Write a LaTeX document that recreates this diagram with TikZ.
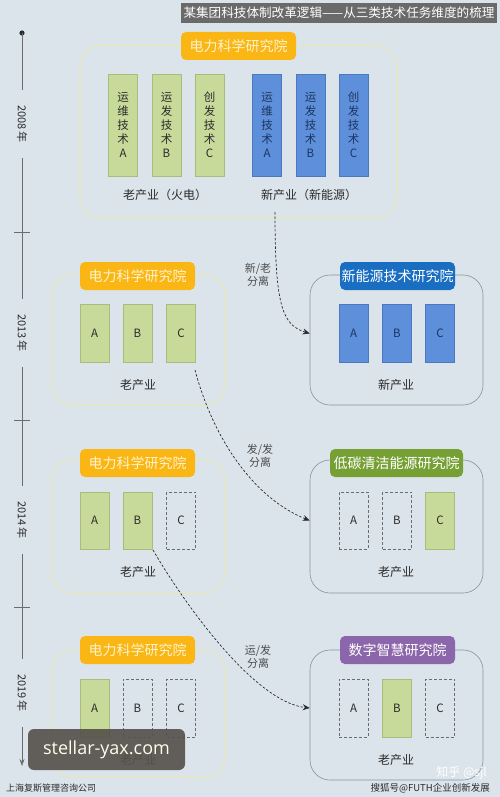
\documentclass[tikz,border=0pt]{standalone}
\usepackage{fontspec}
\setmainfont{Noto Sans CJK SC}
\newfontfamily\wmfont{Open Sans}
\usetikzlibrary{arrows.meta,calc}
\definecolor{bg}{HTML}{DCE4EB}
\definecolor{titlebg}{HTML}{6A6A6A}
\definecolor{orangeC}{HTML}{FAB614}
\definecolor{cream}{HTML}{FFF3CC}
\definecolor{blueHdr}{HTML}{1A6EC2}
\definecolor{greenHdr}{HTML}{76A034}
\definecolor{purpleHdr}{HTML}{8C66AA}
\definecolor{greenBar}{HTML}{C8DA9A}
\definecolor{greenBord}{HTML}{A8BC7C}
\definecolor{blueBar}{HTML}{5E8FDA}
\definecolor{blueBord}{HTML}{4B78BE}
\definecolor{oldFrame}{HTML}{E3E6CB}
\definecolor{newFrame}{HTML}{8493A3}
\definecolor{txt}{HTML}{2B2B2B}
\definecolor{blueTxt}{HTML}{1B355F}
\definecolor{axis}{HTML}{6C6C6C}
\definecolor{wmbox}{HTML}{57524C}
\begin{document}
\begin{tikzpicture}[x=1pt,y=-1pt,
  frameold/.style={draw=oldFrame, line width=1.6pt, rounded corners=20pt, inner sep=0pt, minimum width=173pt, minimum height=130pt},
  framenew/.style={draw=newFrame, line width=0.6pt, rounded corners=20pt, inner sep=0pt, minimum width=173pt, minimum height=130pt},
  hdr/.style={rounded corners=5pt, inner sep=0pt, minimum height=28pt, font=\fontsize{14}{14}\selectfont},
  orangehdr/.style={hdr, fill=orangeC, text=cream, minimum width=115pt},
  gbar/.style={fill=greenBar, draw=greenBord, line width=0.6pt, inner sep=0pt, minimum width=29pt, minimum height=58pt, text=txt, font=\fontsize{11.5}{14}\selectfont, align=center},
  bbar/.style={fill=blueBar, draw=blueBord, line width=0.6pt, inner sep=0pt, minimum width=29pt, minimum height=58pt, text=blueTxt, font=\fontsize{11.5}{14}\selectfont, align=center},
  dbar/.style={draw=axis, dashed, dash pattern=on 3pt off 2pt, line width=0.7pt, inner sep=0pt, minimum width=29pt, minimum height=58pt, text=txt, font=\fontsize{11.5}{14}\selectfont},
  tallbar/.style={minimum height=102pt},
  captxt/.style={text=txt, font=\fontsize{12}{14}\selectfont, inner sep=0pt},
  note/.style={text=txt!85, font=\fontsize{11}{13}\selectfont, align=center, inner sep=0pt},
  conn/.style={draw=txt, dashed, dash pattern=on 2.5pt off 1.8pt, line width=0.7pt, -{Stealth[length=7pt,width=6pt]}},
  year/.style={fill=bg, rotate=-90, inner xsep=15pt, inner ysep=1pt, text=txt, font=\fontsize{11}{11}\selectfont}
]
\fill[bg] (0,0) rectangle (500,797);
\useasboundingbox (0,0) rectangle (500,797);

% title
\node[fill=titlebg, minimum width=316pt, minimum height=20pt, inner sep=0pt, text=white, font=\fontsize{12.6}{13}\selectfont] (title) at (339,13) {某集团科技体制改革逻辑——从三类技术任务维度的梳理};

% timeline
\fill[txt] (22,33) circle (2.6pt);
\coordinate (tstart) at (22,33);
\coordinate (tend) at (22,766);
\draw[axis, line width=0.6pt, -{Stealth[length=7pt,width=5pt]}] (tstart) -- (tend);
\foreach \yy/\nm in {232/k1,420/k2,607/k3}{
  \coordinate (\nm a) at (14,\yy); \coordinate (\nm b) at (30,\yy);
  \draw[axis, line width=0.6pt] (\nm a) -- (\nm b);
}
\node[year] (y08) at (22,124) {2008 年};
\node[year] (y13) at (22,333) {2013 年};
\node[year] (y14) at (22,520) {2014 年};
\node[year] (y19) at (22,693) {2019 年};

% ---------- 2008 ----------
\node[frameold, minimum width=317pt, minimum height=173pt, rounded corners=22pt] (f08) at (238.5,131.5) {};
\node[orangehdr] (h08) at (238.5,46) {电力科学研究院};
\node[gbar, tallbar] (g08a) at (123,125) {运\\维\\技\\术\\A};
\node[gbar, tallbar] (g08b) at (166.5,125) {运\\发\\技\\术\\B};
\node[gbar, tallbar] (g08c) at (209.5,125) {创\\发\\技\\术\\C};
\node[bbar, tallbar] (b08a) at (267,125) {运\\维\\技\\术\\A};
\node[bbar, tallbar] (b08b) at (310.5,125) {运\\发\\技\\术\\B};
\node[bbar, tallbar] (b08c) at (353.5,125) {创\\发\\技\\术\\C};
\node[captxt] (c08o) at (165,195) {老产业（火电）};
\node[captxt] (c08n) at (309,195) {新产业（新能源）};

% ---------- 2013 ----------
\node[frameold] (fl13) at (138.5,340) {};
\node[orangehdr] (hl13) at (137.5,276) {电力科学研究院};
\node[gbar] (l13a) at (94.5,333.5) {A};
\node[gbar] (l13b) at (137.5,333.5) {B};
\node[gbar] (l13c) at (181,333.5) {C};
\node[captxt] (cl13) at (138,385) {老产业};
\node[framenew] (fr13) at (396.5,340) {};
\node[hdr, fill=blueHdr, text=white, minimum width=115pt] (hr13) at (397.5,276) {新能源技术研究院};
\node[bbar] (r13a) at (353.5,333.5) {A};
\node[bbar] (r13b) at (397,333.5) {B};
\node[bbar] (r13c) at (440,333.5) {C};
\node[captxt] (cr13) at (396,385) {新产业};

% ---------- 2014 ----------
\node[frameold, minimum height=133pt] (fl14) at (138.5,526.5) {};
\node[orangehdr] (hl14) at (137.5,463) {电力科学研究院};
\node[gbar, minimum height=57pt] (l14a) at (94.5,520.5) {A};
\node[gbar, minimum height=57pt] (l14b) at (137.5,520.5) {B};
\node[dbar, minimum height=57pt] (l14c) at (181,520.5) {C};
\node[captxt] (cl14) at (138,572) {老产业};
\node[framenew, minimum height=133pt] (fr14) at (396.5,526.5) {};
\node[hdr, fill=greenHdr, text=white, minimum width=133pt] (hr14) at (396.5,463) {低碳清洁能源研究院};
\node[dbar, minimum height=57pt] (r14a) at (353.5,520.5) {A};
\node[dbar, minimum height=57pt] (r14b) at (397,520.5) {B};
\node[gbar, minimum height=57pt] (r14c) at (440,520.5) {C};
\node[captxt] (cr14) at (396,572) {老产业};

% ---------- 2019 ----------
\node[frameold, minimum height=127pt] (fl19) at (138.5,713.5) {};
\node[orangehdr] (hl19) at (137.5,650) {电力科学研究院};
\node[gbar] (l19a) at (94.5,708) {A};
\node[dbar] (l19b) at (137.5,708) {B};
\node[dbar] (l19c) at (181,708) {C};
\node[captxt] (cl19) at (138,760) {老产业};
\node[framenew] (fr19) at (396.5,715) {};
\node[hdr, fill=purpleHdr, text=white, minimum width=115pt] (hr19) at (397.5,650) {数字智慧研究院};
\node[dbar] (r19a) at (353.5,708) {A};
\node[gbar] (r19b) at (397,708) {B};
\node[dbar] (r19c) at (440,708) {C};
\node[captxt] (cr19) at (396,760) {老产业};

% ---------- connectors ----------
\coordinate (s1) at (275,212);
\coordinate (s2) at (195,370);
\coordinate (s3) at (153,550);
\draw[conn] (s1) .. controls (275,305) and (282,325) .. (fr13.west |- r13a.center);
\draw[conn] (s2) .. controls (215,445) and (258,500) .. (fr14.west |- r14a.center);
\draw[conn] (s3) .. controls (185,605) and (255,702) .. (fr19.west |- r19a.center);
\node[note] (n1) at (258,275) {新/老\\分离};
\node[note] (n2) at (260,456) {发/发\\分离};
\node[note] (n3) at (258,657) {运/发\\分离};

% ---------- watermarks ----------
\node[fill=wmbox, fill opacity=0.92, text opacity=1, rounded corners=6pt, minimum width=157pt, minimum height=41pt, inner sep=0pt, text=white!92!yellow, font=\wmfont\fontsize{18}{18}\selectfont] (wm) at (106.5,749.5) {stellar-yax.com};
\node[anchor=west, inner sep=0pt, text=txt, font=\fontsize{9}{9}\selectfont] (src) at (6,788) {上海复斯管理咨询公司};
\node[anchor=east, inner sep=0pt, text=white, font=\fontsize{12}{12}\selectfont] (zh) at (487,773) {知乎 @sjl};
\node[anchor=east, inner sep=0pt, text=txt, font=\fontsize{9.5}{10}\selectfont] (sh) at (490,788) {搜狐号@FUTH企业创新发展};
\end{tikzpicture}
\end{document}
